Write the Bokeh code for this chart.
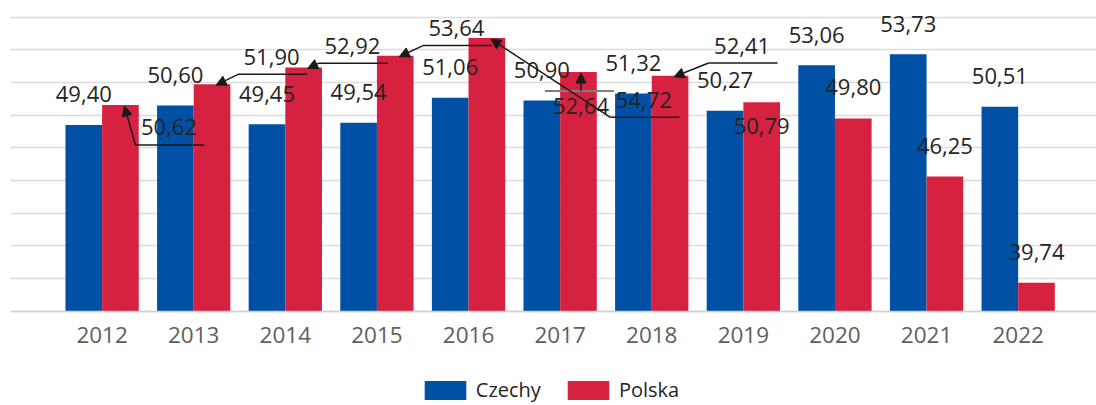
from bokeh.plotting import figure
from bokeh.models import (ColumnDataSource, Range1d, FixedTicker, Legend, LegendItem,
                          Arrow, NormalHead)
from bokeh.transform import dodge
from bokeh.core.properties import value
from bokeh.embed import file_html
from bokeh.resources import INLINE

# ---------------- data ----------------
years = ["2012", "2013", "2014", "2015", "2016", "2017", "2018", "2019", "2020", "2021", "2022"]
czechy = [49.40, 50.60, 49.45, 49.54, 51.06, 50.90, 51.32, 50.27, 53.06, 53.73, 50.51]
polska = [50.62, 51.90, 52.92, 53.64, 54.72, 52.64, 52.41, 50.79, 49.80, 46.25, 39.74]
y_ticks = [38, 40, 42, 44, 46, 48, 50, 52, 54, 56]

# ---------------- label placement (screen pixels, + = right / down) ----------------
czechy_label_dy = -30.5
polska_label_dx = [48.5, 59.5, 48.8, 61.2, 157.0, 2.5, 72.0, 0.0, 0.0, 0.0, 0.0]
polska_label_dy = [22.4, -27.3, -21.8, -27.6, 61.7, 34.0, -30.3, 23.3, -31.0, -30.0, -30.7]
polska_leader = ["under", "under", "under", "under", "under", "over", "under",
                 "none", "none", "none", "none"]

BLUE = "#0051A5"
RED = "#D62240"
GRID = "#dcdcdc"
TXT = "#252423"
FONT = "Open Sans"

W, H = 1096, 405
MB_LEFT, MB_TOP = 10, 8
X0, X1 = -1.0, 10.855
Y0, Y1 = 32.23, 56.53          # view range; bars start at y_ticks[0]
FRAME_W = W - MB_LEFT
FRAME_H = H - MB_TOP
XPX = FRAME_W / (X1 - X0)
YPX = FRAME_H / (Y1 - Y0)


def fmt(v):
    return f"{v:.2f}".replace(".", ",")


n = len(years)
src = ColumnDataSource(dict(
    x=list(range(n)),
    czechy=czechy,
    polska=polska,
    czechy_lbl=[fmt(v) for v in czechy],
    polska_lbl=[fmt(v) for v in polska],
    pdx=polska_label_dx,
    pdy=polska_label_dy,
))

p = figure(width=W, height=H, output_backend="svg", toolbar_location=None,
           x_range=Range1d(X0, X1), y_range=Range1d(Y0, Y1),
           y_axis_location=None,
           min_border_left=MB_LEFT, min_border_right=0, min_border_top=MB_TOP,
           min_border_bottom=0)
p.outline_line_color = None
p.background_fill_color = "white"
p.border_fill_color = "white"

p.xgrid.visible = False
p.ygrid.ticker = FixedTicker(ticks=y_ticks)
p.ygrid.grid_line_color = GRID
p.ygrid.grid_line_width = 1.5

p.xaxis.fixed_location = y_ticks[0]
p.xaxis.ticker = FixedTicker(ticks=list(range(n)))
p.xaxis.major_label_overrides = {i: y for i, y in enumerate(years)}
p.xaxis.major_tick_line_color = None
p.xaxis.minor_tick_line_color = None
p.xaxis.axis_line_color = "#d0d0d0"
p.xaxis.axis_line_width = 1.5
p.xaxis.major_label_text_font = FONT
p.xaxis.major_label_text_font_size = "22.5px"
p.xaxis.major_label_text_color = "#605E5C"
p.xaxis.major_label_standoff = 10

r1 = p.vbar(x=dodge("x", -0.2, range=p.x_range), top="czechy", bottom=y_ticks[0], width=0.4,
            source=src, fill_color=BLUE, line_color=None)
r2 = p.vbar(x=dodge("x", 0.2, range=p.x_range), top="polska", bottom=y_ticks[0], width=0.4,
            source=src, fill_color=RED, line_color=None)

p.text(x=dodge("x", -0.2, range=p.x_range), y="czechy", text="czechy_lbl", source=src,
       text_align="center", text_baseline="middle", y_offset=czechy_label_dy,
       text_font=value(FONT), text_font_size="22px", text_color=TXT)
p.text(x=dodge("x", 0.2, range=p.x_range), y="polska", text="polska_lbl", source=src,
       text_align="center", text_baseline="middle", x_offset="pdx", y_offset="pdy",
       text_font=value(FONT), text_font_size="22px", text_color=TXT)

# ---------------- leader lines ----------------
ux, uy = [], []          # black underline segments
gx, gy = [], []          # gray over-line segments
a = dict(x0=[], y0=[], x1=[], y1=[])
for i in range(n):
    kind = polska_leader[i]
    if kind == "none":
        continue
    bx, by = i + 0.2, polska[i]
    lx = bx + polska_label_dx[i] / XPX
    ly = by - polska_label_dy[i] / YPX
    tipx = bx + 4 / XPX
    tipy = by - 1 / YPX
    if kind == "under":
        yy = ly - 17.5 / YPX
        xl = lx - 33.5 / XPX
        xr = lx + 35.5 / XPX
        ux.append([xr, xl]); uy.append([yy, yy])
        a["x0"].append(xl); a["y0"].append(yy); a["x1"].append(tipx); a["y1"].append(tipy)
    else:
        yy = ly + 15 / YPX
        gx.append([lx - 36 / XPX, lx + 33 / XPX]); gy.append([yy, yy])
        a["x0"].append(lx); a["y0"].append(yy); a["x1"].append(lx); a["y1"].append(tipy)

p.multi_line(xs=ux, ys=uy, line_color="#1a1a1a", line_width=1.5)
p.multi_line(xs=gx, ys=gy, line_color="#808080", line_width=2)
p.add_layout(Arrow(end=NormalHead(size=10, fill_color="#1a1a1a", line_color="#1a1a1a"),
                   x_start="x0", y_start="y0", x_end="x1", y_end="y1",
                   line_color="#1a1a1a", line_width=1.5, source=ColumnDataSource(a)))

# ---------------- legend ----------------
legend = Legend(items=[LegendItem(label="Czechy", renderers=[r1]),
                       LegendItem(label="Polska", renderers=[r2])],
                orientation="horizontal", location=(408.8, 2),
                glyph_width=52, glyph_height=24, label_height=24, label_standoff=5,
                spacing=21, padding=0, margin=0, border_line_color=None,
                background_fill_alpha=0, label_text_font=FONT,
                label_text_font_size="20px", label_text_color=TXT)
p.add_layout(legend, "center")

open("out.html", "w").write(file_html(p, INLINE))
